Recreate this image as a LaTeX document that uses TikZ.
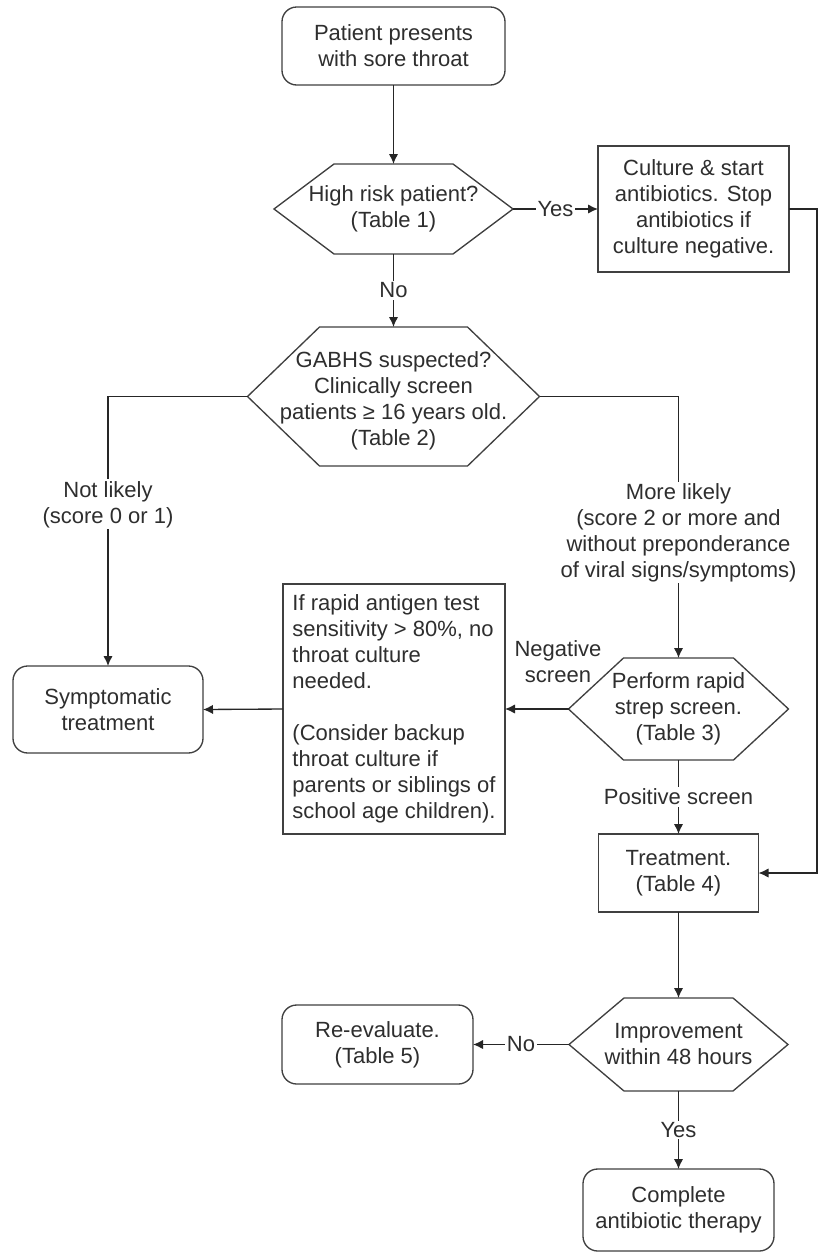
\documentclass[tikz,border=0pt]{standalone}
\usepackage{fontspec}
\setmainfont{Liberation Sans}
\usetikzlibrary{arrows.meta}
\newcommand\hexshape[2]{\draw[shapeline] (#1.west) -- ([xshift=#2]#1.north west) -- ([xshift=-#2]#1.north east) -- (#1.east) -- ([xshift=-#2]#1.south east) -- ([xshift=#2]#1.south west) -- cycle;}
\begin{document}
\begin{tikzpicture}[x=0.75pt,y=-0.75pt,
  txt/.style={font=\fontsize{16.5pt}{19.5pt}\selectfont, text=black!82},
  box/.style={txt, draw=black!75, line width=1pt, inner sep=0pt, outer sep=0pt, align=center},
  rbox/.style={box, rounded corners=11pt},
  hexnode/.style={txt, inner sep=0pt, outer sep=0pt, align=center},
  shapeline/.style={draw=black!75, line width=1pt, line join=miter},
  conn/.style={draw=black!85, line width=1pt, -{Latex[length=7.5pt,width=7pt]}},
  lbl/.style={txt, fill=white, inner sep=1.2pt, align=center}]

\fill[white] (0,0) rectangle (822,1254);
\useasboundingbox (0,0) rectangle (822,1254);

% nodes
\node[rbox, minimum width=167.25pt, minimum height=58.5pt] (start) at (393.5,46) {Patient presents\\with sore throat};
\node[hexnode, minimum width=179.25pt, minimum height=67.5pt] (h1) at (393.5,209) {High risk patient?\\(Table 1)};
\node[box, minimum width=143.25pt, minimum height=94.5pt] (culture) at (693.5,209) {Culture \& start\\antibiotics. Stop\\antibiotics if\\culture negative.};
\node[hexnode, minimum width=219pt, minimum height=104.25pt,
      label={[txt, align=center, inner sep=0pt, yshift=-3pt]center:{GABHS suspected?\\Clinically screen\\patients ≥ 16 years old.\\(Table 2)}}] (h2) at (393.5,396.5) {};
\node[rbox, minimum width=142.5pt, minimum height=65.25pt] (symp) at (108,709.5) {Symptomatic\\treatment};
\node[box, align=left, minimum width=166.5pt, minimum height=187.5pt] (info) at (394,709) {If rapid antigen test\\sensitivity > 80\%, no\\throat culture\\needed.\\[19.5pt](Consider backup\\throat culture if\\parents or siblings of\\school age children).};
\node[hexnode, minimum width=165pt, minimum height=76.5pt] (h3) at (678.5,709) {Perform rapid\\strep screen.\\(Table 3)};
\node[txt, align=center] (neg) at (558,662) {Negative\\screen};
\node[box, minimum width=120pt, minimum height=58.5pt] (treat) at (678.5,873) {Treatment.\\(Table 4)};
\node[hexnode, minimum width=164.25pt, minimum height=69.75pt] (h4) at (678.5,1044.5) {Improvement\\within 48 hours};
\node[rbox, minimum width=143.25pt, minimum height=59.25pt] (reeval) at (377.5,1044.5) {Re-evaluate.\\(Table 5)};
\node[rbox, minimum width=143.25pt, minimum height=61.5pt] (complete) at (678.5,1210) {Complete\\antibiotic therapy};
\coordinate (rt) at (817,209);

% hexagon outlines
\hexshape{h1}{45pt}
\hexshape{h2}{54pt}
\hexshape{h3}{41.25pt}
\hexshape{h4}{41.25pt}

% connectors
\draw[conn] (start.south) -- (h1.north);
\draw[conn] (h1.east) -- node[lbl] {Yes} (culture.west);
\draw[conn] (h1.south) -- node[lbl] {No} (h2.north);
\draw[conn] (h2.west) -| node[lbl, pos=0.70] {Not likely\\(score 0 or 1)} (symp.north);
\draw[conn] (h2.east) -| node[lbl, pos=0.76] {More likely\\(score 2 or more and\\without preponderance\\of viral signs/symptoms)} (h3.north);
\draw[conn] (h3.west) -- (info.east);
\draw[conn] (info.west) -- (symp.east);
\draw[conn] (h3.south) -- node[lbl] {Positive screen} (treat.north);
\draw[conn] (culture.east) -- (rt) |- (treat.east);
\draw[conn] (treat.south) -- (h4.north);
\draw[conn] (h4.west) -- node[lbl] {No} (reeval.east);
\draw[conn] (h4.south) -- node[lbl] {Yes} (complete.north);
\end{tikzpicture}
\end{document}
